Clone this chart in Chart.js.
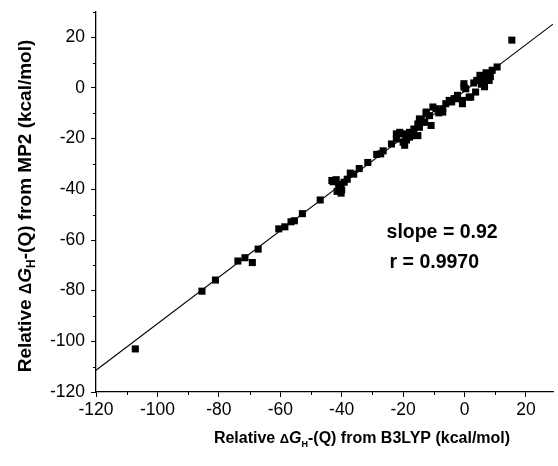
<!DOCTYPE html>
<html>
<head>
<meta charset="utf-8">
<script src="https://cdn.jsdelivr.net/npm/chart.js@4/dist/chart.umd.min.js"></script>
<style>
  html, body { margin: 0; padding: 0; background: #fff; }
  #wrap { width: 558px; height: 466px; }
</style>
</head>
<body>
<div id="wrap"><canvas id="canvas"></canvas></div>
<script>
/* data */
const b3lyp = [-107.2, -85.5, -81.1, -73.8, -71.5, -69.1, -67.2, -60.5, -58.5, -56.5, -55.4, -52.8, -47.0,
  -42.8, -41.8, -41.0, -40.4, -40.0, -40.2, -39.2, -38.2, -41.5, -43.2,
  -37.2, -36.1, -34.3, -31.5, -28.6, -27.3, -26.5, -23.8, -22.2, -22.2, -21.1, -20.0, -20.0, -19.5, -18.9,
  -17.9, -17.9, -17.3, -16.5, -15.2, -15.2, -14.7, -14.7, -14.1, -13.6, -13.0, -12.5, -12.5, -11.4, -10.9,
  -10.3, -9.3, -8.4, -7.1, -7.1, -6.1, -5.0, -4.2, -3.4, -2.8, -2.3, -0.7, -0.7, -0.2, 0.4, -0.2, 1.5, 2.0,
  3.6, 3.0, 4.0, 5.0, 5.5, 6.0, 6.3, 6.5, 7.0, 7.5, 8.0, 8.4, 9.0, 10.6, 15.4];
const mp2 = [-103.0, -80.2, -75.8, -68.3, -67.0, -68.9, -63.6, -55.6, -54.8, -52.8, -52.4, -49.6, -44.2,
  -37.0, -36.2, -38.0, -38.8, -40.2, -41.5, -37.2, -36.0, -40.8, -36.5,
  -33.6, -34.0, -31.8, -29.4, -26.2, -26.0, -24.8, -22.1, -20.1, -18.1, -17.5, -18.1, -21.4, -22.6, -20.5,
  -17.5, -19.4, -18.8, -16.2, -14.2, -18.8, -15.5, -12.2, -12.8, -13.5, -13.5, -10.2, -9.5, -10.9, -14.8,
  -7.5, -8.2, -9.8, -9.5, -8.2, -6.2, -4.9, -5.5, -4.2, -4.2, -2.9, -4.9, -6.2, 1.7, -0.3, 0.4, -3.6, -3.6,
  -1.6, 2.0, 3.0, 5.0, 1.5, 4.0, 2.5, 0.5, 6.0, 5.5, 3.0, 4.5, 7.0, 8.3, 18.9];

const fitX = [-120, 28.8];
const fitY = [-111.4, 25.2];

const xTicks = [-120, -100, -80, -60, -40, -20, 0, 20];
const xMinor = [-110, -90, -70, -50, -30, -10, 10];
const yTicks = [-120, -100, -80, -60, -40, -20, 0, 20];
const yMinor = [-110, -90, -70, -50, -30, -10, 10, 30];

const notes = ['slope = 0.92', 'r = 0.9970'];

const points = b3lyp.map(function(v, i){ return {x: v, y: mp2[i]}; });
const fit = fitX.map(function(v, i){ return {x: v, y: fitY[i]}; });

const FONT = "'Liberation Sans', Arial, sans-serif";

function drawRich(ctx, segs, cx, cy, angle){
  ctx.save();
  ctx.translate(cx, cy);
  ctx.rotate(angle);
  ctx.textBaseline = 'alphabetic';
  ctx.textAlign = 'left';
  let total = 0;
  segs.forEach(function(s){
    ctx.font = s.font;
    s.w = ctx.measureText(s.t).width;
    total += s.w;
  });
  let x = -total / 2;
  segs.forEach(function(s){
    ctx.font = s.font;
    ctx.fillText(s.t, x, s.dy || 0);
    x += s.w;
  });
  ctx.restore();
}

function titleSegs(size, rest){
  return [
    {t: 'Relative ', font: 'bold ' + size + 'px ' + FONT},
    {t: '\u0394', font: 'bold ' + (size - 3) + 'px ' + FONT},
    {t: 'G', font: 'italic bold ' + size + 'px ' + FONT},
    {t: 'H', font: 'bold ' + (size - 7) + 'px ' + FONT, dy: 4},
    {t: rest, font: 'bold ' + size + 'px ' + FONT}
  ];
}

const extras = {
  id: 'extras',
  afterDraw: function(chart){
    const ctx = chart.ctx;
    const xs = chart.scales.x, ys = chart.scales.y;
    const area = chart.chartArea;
    ctx.save();
    ctx.strokeStyle = '#000';
    ctx.lineWidth = 1;
    // minor ticks
    xMinor.forEach(function(v){
      const px = Math.round(xs.getPixelForValue(v)) + 0.5;
      ctx.beginPath();
      ctx.moveTo(px, area.bottom);
      ctx.lineTo(px, area.bottom + 3);
      ctx.stroke();
    });
    yMinor.forEach(function(v){
      const py = Math.round(ys.getPixelForValue(v)) + 0.5;
      ctx.beginPath();
      ctx.moveTo(area.left, py);
      ctx.lineTo(area.left - 3, py);
      ctx.stroke();
    });
    ctx.fillStyle = '#000';
    // axis titles
    drawRich(ctx, titleSegs(16, '-(Q) from B3LYP (kcal/mol)'), 362, 443, 0);
    drawRich(ctx, titleSegs(19, '-(Q) from MP2 (kcal/mol)'), 31, 206, -Math.PI / 2);
    // fit notes
    ctx.font = 'bold 19.5px ' + FONT;
    ctx.textAlign = 'left';
    ctx.textBaseline = 'alphabetic';
    ctx.fillText(notes[0], xs.getPixelForValue(-25.4), ys.getPixelForValue(-59.3));
    ctx.fillText(notes[1], xs.getPixelForValue(-24.4), ys.getPixelForValue(-71.0));
    ctx.restore();
  }
};

const ctx = document.getElementById('canvas');
new Chart(ctx, {
  type: 'scatter',
  data: {
    datasets: [{
      label: 'points',
      data: points,
      pointStyle: 'rect',
      pointRadius: 5,
      backgroundColor: '#000',
      borderColor: '#000',
      borderWidth: 0
    },
    {
      label: 'fit',
      data: fit,
      showLine: true,
      pointRadius: 0,
      borderColor: '#000',
      borderWidth: 1.1
    }]
  },
  options: {
    responsive: true,
    maintainAspectRatio: false,
    animation: false,
    layout: { padding: { top: 12, right: 0, left: 0, bottom: 0 } },
    plugins: {
      legend: { display: false },
      tooltip: { enabled: false }
    },
    scales: {
      x: {
        type: 'linear',
        position: 'bottom',
        min: -120,
        max: 28.8,
        afterBuildTicks: function(s){ s.ticks = xTicks.map(function(v){ return {value: v}; }); },
        afterFit: function(s){ s.height = 74; s.paddingLeft = 0; s.paddingRight = 0; },
        grid: { drawOnChartArea: false, drawTicks: true, tickLength: 5, tickColor: '#000', tickWidth: 1 },
        border: { color: '#000', width: 1.3 },
        ticks: { color: '#000', font: { family: FONT, size: 17.5 }, padding: 3, maxRotation: 0, autoSkip: false }
      },
      y: {
        type: 'linear',
        min: -120,
        max: 30,
        afterBuildTicks: function(s){ s.ticks = yTicks.map(function(v){ return {value: v}; }); },
        afterFit: function(s){ s.width = 96; s.paddingTop = 0; s.paddingBottom = 0; },
        grid: { drawOnChartArea: false, drawTicks: true, tickLength: 5, tickColor: '#000', tickWidth: 1 },
        border: { color: '#000', width: 1.3 },
        ticks: { color: '#000', font: { family: FONT, size: 17.5 }, padding: 6, autoSkip: false }
      }
    }
  },
  plugins: [extras]
});
</script>
</body>
</html>
